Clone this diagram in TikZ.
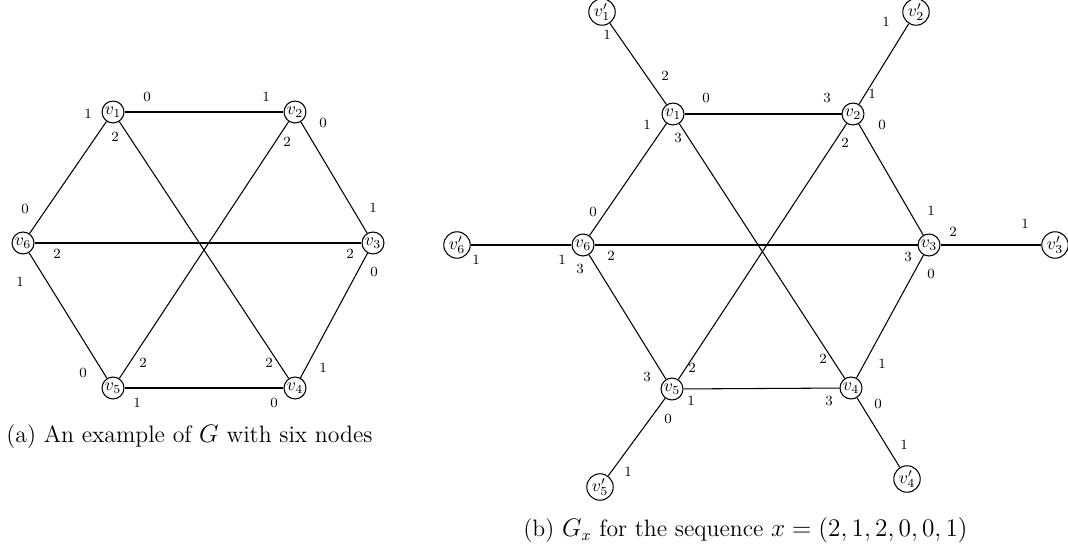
\documentclass[tikz,border=0pt]{standalone}
\usepackage{amsmath,amssymb}
\usepackage{tikz}
\usetikzlibrary{positioning}

\begin{document}
\begin{tikzpicture}[
    x=0.02cm, y=-0.02cm,
    vtx/.style={circle, draw, semithick, minimum size=12.5pt, inner sep=0.5pt},
    port/.style={font=\footnotesize, inner sep=1pt},
    link/.style={semithick},
    captxt/.style={inner sep=0pt, anchor=west, font=\fontsize{13.5}{16}\selectfont}
]
\useasboundingbox (0,0) rectangle (1068,550);

% ── (a): G with six nodes ──
\node[vtx] (a1) at (113,112) {$v_1$};
\node[vtx] (a2) at (295,112) {$v_2$};
\node[vtx] (a3) at (373,243) {$v_3$};
\node[vtx] (a4) at (295,388) {$v_4$};
\node[vtx] (a5) at (113,388) {$v_5$};
\node[vtx] (a6) at (23,243) {$v_6$};

% Edges
\draw[link] (a1) -- (a2);
\draw[link] (a2) -- (a3);
\draw[link] (a3) -- (a4);
\draw[link] (a4) -- (a5);
\draw[link] (a5) -- (a6);
\draw[link] (a6) -- (a1);
\draw[link] (a1) -- (a4);
\draw[link] (a2) -- (a5);
\draw[link] (a3) -- (a6);

% Port numbers
\node[port] (pa12) at (147,97) {0};
\node[port] (pa16) at (88,114) {1};
\node[port] (pa14) at (115,137) {2};
\node[port] (pa21) at (266,97) {1};
\node[port] (pa23) at (323,123) {0};
\node[port] (pa25) at (287,142) {2};
\node[port] (pa32) at (373,208) {1};
\node[port] (pa36) at (350,254) {2};
\node[port] (pa34) at (374,272) {0};
\node[port] (pa41) at (269,363) {2};
\node[port] (pa43) at (323,368) {1};
\node[port] (pa45) at (274,403) {0};
\node[port] (pa56) at (83,373) {0};
\node[port] (pa52) at (143,363) {2};
\node[port] (pa54) at (137,403) {1};
\node[port] (pa61) at (25,209) {0};
\node[port] (pa63) at (57,254) {2};
\node[port] (pa65) at (20,282) {1};

\node[captxt] (capa) at (6,437) {(a) An example of $G$ with six nodes};

% ── (b): G_x ──
\node[vtx] (b1) at (673,114) {$v_1$};
\node[vtx] (b2) at (853,114) {$v_2$};
\node[vtx] (b3) at (929,245) {$v_3$};
\node[vtx] (b4) at (851,388) {$v_4$};
\node[vtx] (b5) at (672,389) {$v_5$};
\node[vtx] (b6) at (583,245) {$v_6$};

% Pendant nodes
\node[vtx] (c1) at (602,12) {$v'_1$};
\node[vtx] (c2) at (916,12) {$v'_2$};
\node[vtx] (c3) at (1055,245) {$v'_3$};
\node[vtx] (c4) at (907,479) {$v'_4$};
\node[vtx] (c5) at (600,487) {$v'_5$};
\node[vtx] (c6) at (457,245) {$v'_6$};

% Edges
\draw[link] (b1) -- (b2);
\draw[link] (b2) -- (b3);
\draw[link] (b3) -- (b4);
\draw[link] (b4) -- (b5);
\draw[link] (b5) -- (b6);
\draw[link] (b6) -- (b1);
\draw[link] (b1) -- (b4);
\draw[link] (b2) -- (b5);
\draw[link] (b3) -- (b6);
\draw[link] (b1) -- (c1);
\draw[link] (b2) -- (c2);
\draw[link] (b3) -- (c3);
\draw[link] (b4) -- (c4);
\draw[link] (b5) -- (c5);
\draw[link] (b6) -- (c6);

% Port numbers
\node[port] (pb1c) at (665,76) {2};
\node[port] (pb12) at (706,98) {0};
\node[port] (pb16) at (647,125) {1};
\node[port] (pb14) at (678,138) {3};
\node[port] (pc1) at (607,35) {1};
\node[port] (pb21) at (827,98) {3};
\node[port] (pb2c) at (872,94) {1};
\node[port] (pb23) at (882,125) {0};
\node[port] (pb25) at (845,143) {2};
\node[port] (pc2) at (886,22) {1};
\node[port] (pb32) at (931,211) {1};
\node[port] (pb3c) at (953,232) {2};
\node[port] (pb36) at (908,257) {3};
\node[port] (pb34) at (931,274) {0};
\node[port] (pc3) at (1025,224) {1};
\node[port] (pb41) at (823,359) {2};
\node[port] (pb43) at (882,364) {1};
\node[port] (pb45) at (829,401) {3};
\node[port] (pb4c) at (878,404) {0};
\node[port] (pc4) at (904,445) {1};
\node[port] (pb56) at (647,377) {3};
\node[port] (pb52) at (692,368) {2};
\node[port] (pb54) at (691,401) {1};
\node[port] (pb5c) at (668,419) {0};
\node[port] (pc5) at (628,472) {1};
\node[port] (pb61) at (593,212) {0};
\node[port] (pb6c) at (562,260) {1};
\node[port] (pb63) at (611,256) {2};
\node[port] (pb65) at (580,269) {3};
\node[port] (pc6) at (476,260) {1};

\node[captxt] (capb) at (523,530) {(b) $G_x$ for the sequence $x=(2,1,2,0,0,1)$};

\end{tikzpicture}
\end{document}
